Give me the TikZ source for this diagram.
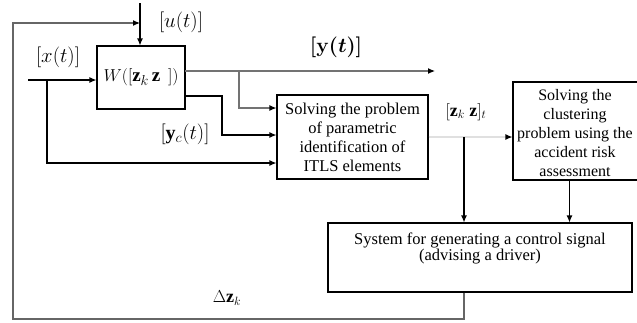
\documentclass[tikz,border=0pt]{standalone}
\usepackage{fontspec}
\setmainfont{Liberation Serif}
\usetikzlibrary{arrows.meta,positioning}

\begin{document}
\begin{tikzpicture}[x=1pt, y=-1pt,
    blockbox/.style={draw, line width=1.1pt, inner sep=0pt, align=center, font=\fontsize{16.5}{19}\selectfont},
    lbl/.style={inner sep=0pt, font=\fontsize{20}{22}\selectfont},
    arr/.style={line width=1.1pt, -{Latex[length=7pt,width=6pt,color=black]}},
    sigline/.style={line width=1.8pt, black!55},
    fbline/.style={line width=1.5pt, black!60},
    faintline/.style={line width=0.6pt, black!12}]
    \useasboundingbox (0,0) rectangle (637,322);

    % Blocks
    \node[blockbox, minimum width=88, minimum height=63, font=\fontsize{19}{21}\selectfont] (W) at (141,77.5) {$W([\mathbf{z}_k\,\mathbf{z}\ \,])$};
    \node[blockbox, minimum width=151, minimum height=84] (itls) at (352.5,137) {Solving the problem\\of parametric\\identification of\\ITLS elements};
    \node[blockbox, minimum width=139, minimum height=98] (clust) at (582.5,131) {};
    \node[inner sep=0pt, align=center, font=\fontsize{16}{19}\selectfont] (clusttxt) at (575,133) {Solving the\\clustering\\problem using the\\accident risk\\assessment};
    \node[blockbox, minimum width=304, minimum height=69] (ctrl) at (480,257.5) {};
    \node[inner sep=0pt, align=center, anchor=north, font=\fontsize{16.5}{16}\selectfont] (ctrltxt) at ([yshift=-10]ctrl.north) {System for generating a control signal\\(advising a driver)};

    % Labels
    \node[lbl] (ulbl) at (181,22) {$[u(t)]$};
    \node[lbl] (xlbl) at (58,57) {$[x(t)]$};
    \node[lbl, font=\fontsize{22}{24}\selectfont\boldmath] (ylbl) at (336,47) {$[\mathbf{y}(t)]$};
    \node[lbl] (yclbl) at (185,134) {$[\mathbf{y}_c(t)]$};
    \node[lbl, font=\fontsize{18}{20}\selectfont] (zlbl) at (466,112) {$[\mathbf{z}_k\ \mathbf{z}]_t$};
    \node[lbl, font=\fontsize{18}{20}\selectfont] (dzlbl) at (227,298) {$\Delta\mathbf{z}_k$};

    % Signal points
    \coordinate (utop) at (140,3);
    \coordinate (xin) at (28,80);
    \coordinate (xbr) at (47,80);
    \coordinate (wy) at (185,71);
    \coordinate (ybr) at (239,71);
    \coordinate (yend) at (435,71);
    \coordinate (wyc) at (185,96);
    \coordinate (ycbend) at (222,96);
    \coordinate (zj) at (464,137);
    \coordinate (fbbl) at (13,319);
    \coordinate (fbtl) at (13,23);

    % Inputs
    \draw[arr] (utop) -- (utop |- W.north);
    \draw[arr] (xin) -- (xin -| W.west);
    \draw[arr] (xbr) |- ([yshift=-26]itls.west);

    % Outputs of W
    \draw[sigline, arr] (wy) -- (yend);
    \draw[sigline, arr] (ybr) |- ([yshift=29]itls.west);
    \draw[arr] (wyc) -- (ycbend) |- ([yshift=2]itls.west);

    % Identification results
    \draw[line width=1.1pt] (itls.east) -- ++(5,0);
    \draw[faintline, arr] (itls.east) -- (zj) -- (zj -| clust.west);
    \draw[arr] (zj) -- (zj |- ctrl.north);
    \draw[arr] ([xshift=-13]clust.south) -- ([xshift=-13]clust.south |- ctrl.north);

    % Feedback
    \draw[fbline, arr] (ctrl.south -| zj) |- (fbbl) -- (fbtl) -- (fbtl -| utop);
\end{tikzpicture}
\end{document}
